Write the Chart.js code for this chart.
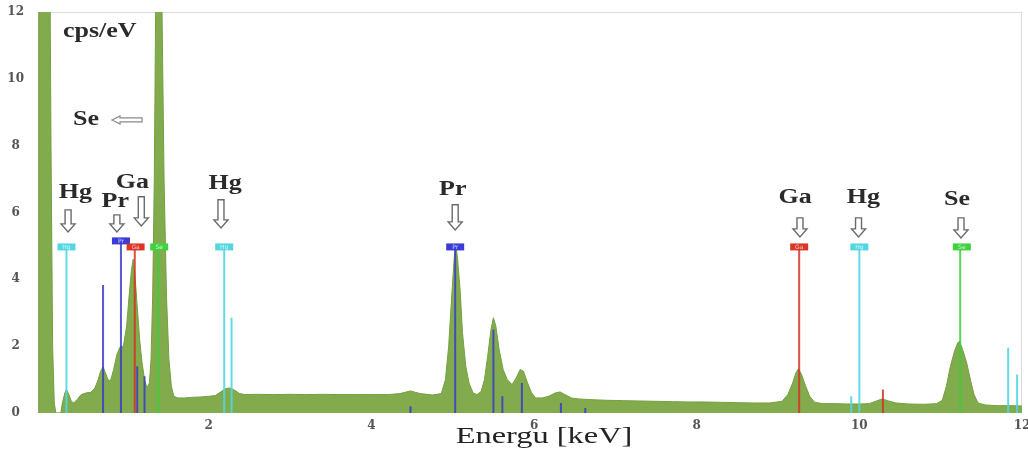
<!DOCTYPE html>
<html><head><meta charset="utf-8">
<script src="https://cdn.jsdelivr.net/npm/chart.js@4.4.1/dist/chart.umd.min.js"></script>
<style>html,body{margin:0;padding:0;background:#fff;}#wrap{width:1028px;height:450px;position:relative;}</style>
</head><body><div id="wrap"><canvas id="c"></canvas></div>
<script>
// ---- spectrum (energy in keV, intensity in cps/eV) ----
const energy = [-0.10,-0.09,0.03,0.06,0.08,0.10,0.12,0.18,0.20,0.23,0.25,0.28,0.31,0.34,0.38,0.43,0.49,0.55,0.60,0.64,0.67,0.70,0.73,0.76,0.79,0.83,0.87,0.91,0.95,0.99,1.02,1.05,1.07,1.09,1.12,1.15,1.18,1.21,1.24,1.27,1.29,1.31,1.33,1.35,1.38,1.42,1.45,1.48,1.51,1.54,1.57,1.62,1.70,1.80,1.90,2.00,2.08,2.14,2.20,2.26,2.32,2.38,2.45,2.60,2.80,3.00,3.20,3.40,3.60,3.80,4.00,4.20,4.35,4.48,4.60,4.75,4.86,4.91,4.95,4.99,5.02,5.04,5.06,5.09,5.12,5.16,5.20,5.25,5.30,5.35,5.39,5.43,5.47,5.50,5.53,5.57,5.62,5.67,5.73,5.78,5.83,5.87,5.92,5.97,6.02,6.10,6.18,6.26,6.32,6.38,6.46,6.55,6.70,6.90,7.10,7.30,7.50,7.70,7.90,8.10,8.30,8.50,8.70,8.90,9.05,9.12,9.18,9.22,9.25,9.29,9.34,9.39,9.45,9.55,9.70,9.85,10.00,10.12,10.20,10.28,10.36,10.45,10.60,10.80,10.95,11.02,11.07,11.12,11.17,11.21,11.23,11.27,11.32,11.37,11.41,11.46,11.55,11.70,11.85,12.00];
const counts = [0,20,20,8,2,0.3,0,0,0.3,0.6,0.7,0.55,0.35,0.3,0.4,0.55,0.6,0.62,0.75,1.0,1.25,1.38,1.2,1.0,0.95,1.3,1.75,1.98,2.0,2.6,3.5,4.3,4.6,4.2,3.2,2.2,1.5,1.0,0.75,0.9,1.6,3.5,7,13,20,13,7,3.5,1.6,0.8,0.5,0.45,0.45,0.47,0.48,0.5,0.52,0.62,0.72,0.75,0.68,0.58,0.55,0.56,0.55,0.56,0.55,0.56,0.55,0.55,0.55,0.55,0.58,0.66,0.58,0.54,0.58,1.0,2.0,3.6,4.7,5.0,4.6,3.7,2.4,1.4,0.9,0.6,0.55,0.65,1.0,1.7,2.5,2.85,2.6,1.9,1.3,1.0,0.85,1.05,1.3,1.25,0.9,0.6,0.45,0.45,0.5,0.6,0.63,0.55,0.45,0.42,0.4,0.38,0.37,0.36,0.35,0.34,0.33,0.33,0.32,0.31,0.3,0.3,0.35,0.55,0.9,1.2,1.32,1.15,0.8,0.5,0.32,0.28,0.28,0.27,0.27,0.28,0.35,0.42,0.36,0.3,0.27,0.26,0.28,0.38,0.8,1.4,1.85,2.1,2.15,1.9,1.5,0.95,0.55,0.3,0.24,0.22,0.22,0.21];

// ---- characteristic line markers (energy, height) ----
const hgLineE = [0.25,2.19,2.28,9.90,10.00,11.83,11.94];
const hgLineH = [4.95,4.95,2.85,0.5,4.95,1.95,1.15];
const prLineE = [0.70,0.92,1.12,1.21,4.48,5.03,5.50,5.61,5.85,6.33,6.63];
const prLineH = [3.83,5.1,1.4,1.1,0.2,5.0,2.5,0.5,0.9,0.3,0.15];
const gaLineE = [1.09,9.26,10.29];
const gaLineH = [4.95,4.95,0.7];
const seLineE = [1.38,11.24];
const seLineH = [4.95,4.95];

// ---- element tags ----
const tagEl = ['Hg','Pr','Ga','Se','Hg','Pr','Ga','Hg','Se'];
const tagE  = [0.25,0.92,1.10,1.39,2.19,5.03,9.26,10.00,11.26];
const tagV  = [4.97,5.15,4.97,4.97,4.97,4.97,4.97,4.97,4.97];

// ---- labelled arrows ----
const labelText = ['Hg','Pr','Ga','Hg','Pr','Ga','Hg','Se'];
const labelE    = [0.36,0.85,1.06,2.20,5.00,9.21,10.05,11.20];
const labelV    = [6.59,6.32,6.89,6.86,6.68,6.44,6.44,6.38];
const arrowE    = [0.27,0.87,1.17,2.15,5.03,9.27,9.99,11.25];
const arrowTop  = [6.08,5.93,6.47,6.38,6.23,5.84,5.84,5.84];
const arrowBot  = [5.42,5.42,5.60,5.54,5.48,5.27,5.27,5.24];

const xTicks = [0,2,4,6,8,10,12];
const yTicks = [0,2,4,6,8,10,12];
const xTitle = 'Energu [keV]';
const yTitle = 'cps/eV';

const colors = {Hg:'#52d6e2', Pr:'#3b3bd6', Ga:'#dc3526', Se:'#3ed23e'};
const lineColors = {Hg:'rgba(82,214,226,0.9)', Pr:'rgba(59,59,200,0.85)', Ga:'rgba(210,50,35,0.85)', Se:'rgba(62,205,62,0.85)'};

function markerData(E,H){
  const d=[];
  E.forEach((e,i)=>{d.push({x:e,y:0});d.push({x:e,y:H[i]});d.push({x:e,y:null});});
  return d;
}
function markerSet(el,E,H){
  return {type:'line',data:markerData(E,H),borderColor:lineColors[el],borderWidth:2,pointRadius:0,fill:false,spanGaps:false,order:1};
}

function sText(ctx,str,cx,cy,size,weight,sx,color){
  ctx.save();
  ctx.translate(cx,cy);ctx.scale(sx,1);
  ctx.font=weight+' '+size+'px "Liberation Serif", serif';
  ctx.textAlign='center';ctx.textBaseline='middle';ctx.fillStyle=color;
  ctx.fillText(str,0,0);
  ctx.restore();
}

const overlay = {
  id:'overlay',
  beforeDatasetsDraw(chart){
    const {ctx,chartArea:a}=chart;
    ctx.save();
    ctx.strokeStyle='#dcdcdc';ctx.lineWidth=1;
    ctx.strokeRect(a.left+0.5,a.top+0.5,a.right-a.left-1,a.bottom-a.top-1);
    ctx.restore();
  },
  afterDatasetsDraw(chart){
    const {ctx,scales:{x,y},chartArea:a}=chart;
    ctx.save();
    // tags
    tagEl.forEach((el,i)=>{
      const px=x.getPixelForValue(tagE[i]), py=y.getPixelForValue(tagV[i]);
      ctx.fillStyle=colors[el];
      ctx.fillRect(px-9,py-3.5,18,7);
      ctx.fillStyle='rgba(255,255,255,0.75)';
      ctx.font='6px "DejaVu Sans", sans-serif';
      ctx.textAlign='center';ctx.textBaseline='middle';
      ctx.fillText(el,px,py+0.5);
    });
    // labels with hollow arrows
    labelText.forEach((t,i)=>{
      sText(ctx,t,x.getPixelForValue(labelE[i]),y.getPixelForValue(labelV[i]),20,'bold',1.3,'#2a2a2a');
      const ax=x.getPixelForValue(arrowE[i]);
      const top=y.getPixelForValue(arrowTop[i]), bot=y.getPixelForValue(arrowBot[i]);
      const hh=8, sw=3, hw=7;
      ctx.beginPath();
      ctx.moveTo(ax-sw,top);ctx.lineTo(ax+sw,top);ctx.lineTo(ax+sw,bot-hh);ctx.lineTo(ax+hw,bot-hh);
      ctx.lineTo(ax,bot);ctx.lineTo(ax-hw,bot-hh);ctx.lineTo(ax-sw,bot-hh);ctx.closePath();
      ctx.fillStyle='#fff';ctx.fill();
      ctx.strokeStyle='#6a6a6a';ctx.lineWidth=1.4;ctx.stroke();
    });
    // "Se" with left arrow
    const sy=y.getPixelForValue(8.77);
    sText(ctx,'Se',x.getPixelForValue(0.49),sy,20,'bold',1.3,'#2a2a2a');
    const l=x.getPixelForValue(0.81), r=x.getPixelForValue(1.18);
    ctx.beginPath();
    ctx.moveTo(r,sy-2);ctx.lineTo(l+8,sy-2);ctx.lineTo(l+8,sy-4);ctx.lineTo(l,sy);ctx.lineTo(l+8,sy+4);ctx.lineTo(l+8,sy+2);ctx.lineTo(r,sy+2);ctx.closePath();
    ctx.fillStyle='#fff';ctx.fill();ctx.strokeStyle='#8a8a8a';ctx.lineWidth=1.2;ctx.stroke();
    // y title inside plot
    sText(ctx,yTitle,x.getPixelForValue(0.66),y.getPixelForValue(11.4),20,'bold',1.3,'#2a2a2a');
    // x title
    sText(ctx,xTitle,544,437,24,'normal',1.35,'#222');
    ctx.restore();
  }
};

new Chart(document.getElementById('c'),{
  type:'line',
  data:{datasets:[
    markerSet('Hg',hgLineE,hgLineH),
    markerSet('Pr',prLineE,prLineH),
    markerSet('Ga',gaLineE,gaLineH),
    markerSet('Se',seLineE,seLineH),
    {type:'line',data:energy.map((e,i)=>({x:e,y:counts[i]})),borderColor:'#74a03f',borderWidth:1,backgroundColor:'#82ab4d',fill:'origin',pointRadius:0,tension:0,order:10}
  ]},
  options:{
    responsive:true,maintainAspectRatio:false,animation:false,
    layout:{padding:{top:12,right:6,left:0,bottom:0}},
    plugins:{legend:{display:false},tooltip:{enabled:false}},
    scales:{
      x:{type:'linear',min:-0.1,max:12,
        grid:{display:false,drawTicks:false},border:{display:false},
        afterBuildTicks(s){s.ticks=xTicks.map(v=>({value:v}));},
        afterFit(s){s.height=37;s.paddingLeft=0;s.paddingRight=0;},
        ticks:{padding:6,maxRotation:0,autoSkip:false,color:'#555',font:{family:'"DejaVu Serif", serif',size:12,weight:'bold'},
          callback:(v)=>v===0?'':String(v)}},
      y:{type:'linear',min:0,max:12,
        grid:{display:false,drawTicks:false},border:{display:false},
        afterBuildTicks(s){s.ticks=yTicks.map(v=>({value:v}));},
        afterFit(s){s.width=38;s.paddingTop=0;s.paddingBottom=0;},
        ticks:{padding:14,crossAlign:'center',color:'#555',font:{family:'"DejaVu Serif", serif',size:12,weight:'bold'}}}
    }
  },
  plugins:[overlay]
});
</script></body></html>
